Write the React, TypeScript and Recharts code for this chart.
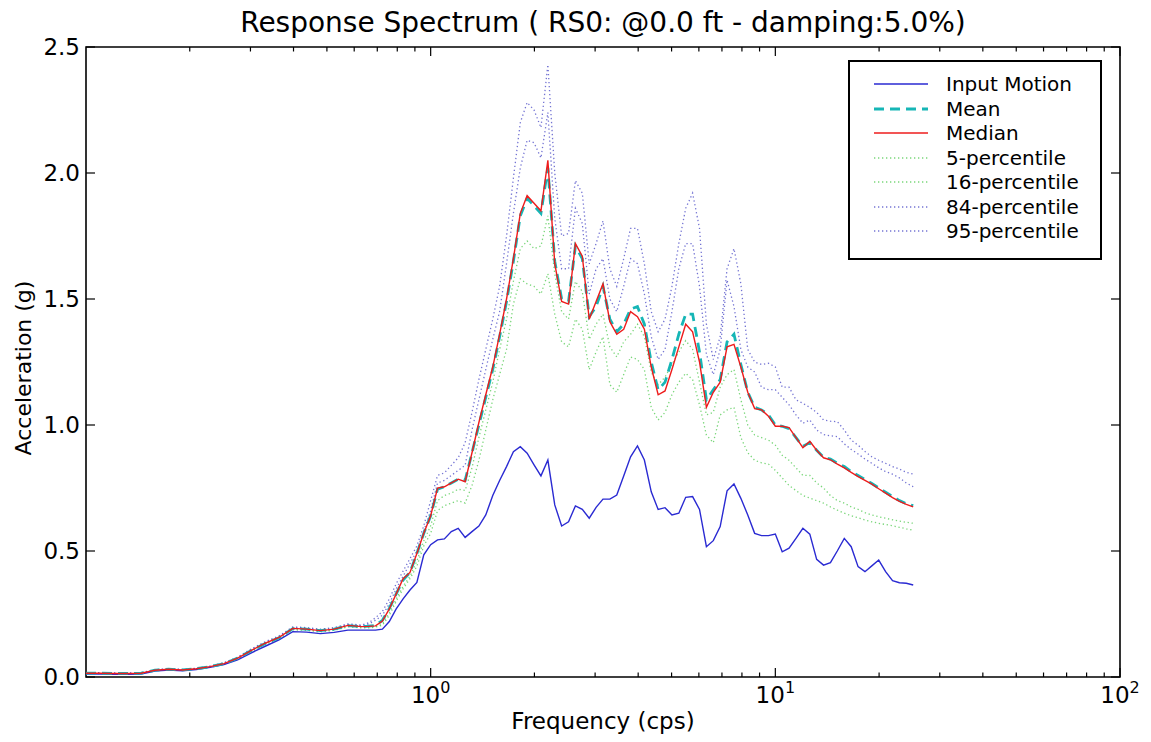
import React from 'react';
import { LineChart, Line, XAxis, YAxis, Legend, ReferenceArea, Label } from 'recharts';

const FONT = '"DejaVu Sans", Verdana, sans-serif';
const W = 1151;
const H = 742;
const PLOT_L = 86;
const PLOT_R = 1120;
const PLOT_T = 47;
const PLOT_B = 677;

// frequency (cps)
const frequency = [
  0.1, 0.1096, 0.1202, 0.1318, 0.1445, 0.1585, 0.1738, 0.1905, 0.2089, 0.2291, 0.2512,
  0.2754, 0.302, 0.3311, 0.3631, 0.3981, 0.4365, 0.4786, 0.5248, 0.5754, 0.631,
  0.6607, 0.6918, 0.7244, 0.7586, 0.7943, 0.8318, 0.871, 0.912, 0.955, 1.0,
  1.047, 1.096, 1.148, 1.202, 1.259, 1.318, 1.38, 1.445, 1.514, 1.585,
  1.66, 1.738, 1.82, 1.905, 1.995, 2.089, 2.188, 2.291, 2.399, 2.512,
  2.63, 2.754, 2.884, 3.02, 3.162, 3.311, 3.467, 3.631, 3.802, 3.981,
  4.169, 4.365, 4.571, 4.786, 5.012, 5.248, 5.495, 5.754, 6.026, 6.31,
  6.607, 6.918, 7.244, 7.586, 7.943, 8.318, 8.71, 9.12, 9.55, 10.0,
  10.47, 10.96, 11.48, 12.02, 12.59, 13.18, 13.8, 14.45, 15.14, 15.85,
  16.6, 17.38, 18.2, 19.05, 19.95, 20.89, 21.88, 22.91, 23.99, 25.12,
];

const inputMotion = [
  0.012, 0.012, 0.011, 0.011, 0.012, 0.024, 0.028, 0.025, 0.03, 0.038, 0.049,
  0.068, 0.096, 0.122, 0.147, 0.18, 0.178, 0.172, 0.177, 0.186, 0.186,
  0.186, 0.186, 0.19, 0.22, 0.27, 0.31, 0.345, 0.375, 0.485, 0.525,
  0.544, 0.548, 0.577, 0.59, 0.554, 0.577, 0.599, 0.643, 0.72, 0.78,
  0.835, 0.894, 0.914, 0.888, 0.842, 0.798, 0.861, 0.683, 0.599, 0.616,
  0.679, 0.665, 0.63, 0.673, 0.706, 0.706, 0.722, 0.798, 0.874, 0.917,
  0.861, 0.735, 0.665, 0.672, 0.643, 0.65, 0.713, 0.716, 0.665, 0.517,
  0.541, 0.597, 0.739, 0.766, 0.709, 0.643, 0.57, 0.561, 0.561, 0.567,
  0.497, 0.511, 0.55, 0.59, 0.567, 0.467, 0.444, 0.454, 0.501, 0.55,
  0.517, 0.438, 0.418, 0.441, 0.464, 0.418, 0.382, 0.374, 0.372, 0.365,
];

const meanSpec = [
  0.015, 0.015, 0.014, 0.014, 0.015, 0.027, 0.031, 0.028, 0.033, 0.041, 0.053,
  0.075, 0.105, 0.133, 0.156, 0.192, 0.19, 0.184, 0.19, 0.204, 0.2,
  0.202, 0.205, 0.225, 0.272, 0.33, 0.385, 0.415, 0.49, 0.57, 0.64,
  0.745, 0.755, 0.77, 0.785, 0.78, 0.89, 1.0, 1.11, 1.22, 1.35,
  1.49, 1.65, 1.83, 1.9, 1.87, 1.84, 2.02, 1.65, 1.5, 1.49,
  1.71, 1.66, 1.43, 1.47, 1.55, 1.42, 1.37, 1.4, 1.46, 1.47,
  1.4, 1.25, 1.14, 1.17, 1.26, 1.36, 1.44, 1.44, 1.29, 1.1,
  1.14, 1.18, 1.33, 1.36, 1.24, 1.13, 1.07, 1.06, 1.04, 1.0,
  0.995, 0.985, 0.95, 0.915, 0.93, 0.9, 0.872, 0.865, 0.848, 0.835,
  0.815, 0.8, 0.784, 0.768, 0.75, 0.733, 0.716, 0.7, 0.688, 0.68,
];

const medianSpec = [
  0.015, 0.015, 0.014, 0.014, 0.015, 0.027, 0.031, 0.028, 0.033, 0.041, 0.053,
  0.075, 0.106, 0.134, 0.157, 0.193, 0.19, 0.184, 0.19, 0.205, 0.2,
  0.201, 0.203, 0.222, 0.27, 0.33, 0.39, 0.415, 0.49, 0.57, 0.64,
  0.75, 0.755, 0.77, 0.785, 0.775, 0.89, 1.01, 1.12, 1.23, 1.36,
  1.5, 1.66, 1.84, 1.91, 1.88, 1.85, 2.05, 1.64, 1.49, 1.48,
  1.72, 1.67, 1.42, 1.49, 1.56, 1.41, 1.36, 1.38, 1.45, 1.43,
  1.38, 1.23, 1.12, 1.135, 1.22, 1.31, 1.4, 1.37, 1.25, 1.07,
  1.13, 1.17, 1.31, 1.32, 1.23, 1.13, 1.065, 1.06, 1.035, 0.995,
  0.995, 0.99, 0.95, 0.91, 0.935, 0.9, 0.87, 0.862, 0.845, 0.83,
  0.812, 0.795, 0.78, 0.765, 0.747, 0.73, 0.712, 0.697, 0.685, 0.675,
];

const p5 = [
  0.013, 0.013, 0.012, 0.012, 0.013, 0.025, 0.029, 0.026, 0.031, 0.039, 0.05,
  0.071, 0.101, 0.128, 0.151, 0.187, 0.185, 0.179, 0.185, 0.199, 0.195,
  0.195, 0.198, 0.205, 0.245, 0.3, 0.35, 0.39, 0.44, 0.52, 0.57,
  0.66, 0.68, 0.69, 0.7, 0.69, 0.76, 0.86, 0.98, 1.1, 1.2,
  1.3, 1.48, 1.58, 1.56, 1.55, 1.52, 1.6, 1.44, 1.33, 1.31,
  1.42, 1.38, 1.22, 1.29, 1.35, 1.16, 1.13, 1.2, 1.27, 1.26,
  1.22, 1.07, 1.02, 1.05, 1.12, 1.17, 1.205, 1.18, 1.08, 0.96,
  0.93, 1.04, 1.06, 1.07, 0.95, 0.89, 0.86, 0.85, 0.845, 0.82,
  0.79, 0.76, 0.74, 0.72, 0.71, 0.7, 0.69, 0.675, 0.662, 0.65,
  0.64, 0.632, 0.623, 0.616, 0.61, 0.605, 0.6, 0.594, 0.588, 0.583,
];

const p16 = [
  0.014, 0.014, 0.013, 0.013, 0.014, 0.026, 0.03, 0.027, 0.032, 0.04, 0.052,
  0.073, 0.104, 0.131, 0.154, 0.19, 0.188, 0.182, 0.188, 0.202, 0.198,
  0.198, 0.2, 0.21, 0.255, 0.31, 0.36, 0.4, 0.46, 0.54, 0.6,
  0.7, 0.72, 0.73, 0.745, 0.74, 0.83, 0.95, 1.06, 1.17, 1.3,
  1.42, 1.57, 1.7, 1.73, 1.7, 1.71, 1.83, 1.6, 1.45, 1.42,
  1.57, 1.53, 1.34, 1.4, 1.44, 1.31, 1.27, 1.33, 1.36, 1.4,
  1.35, 1.21, 1.16, 1.19, 1.24, 1.29, 1.335, 1.3, 1.17, 1.04,
  1.05, 1.15, 1.2, 1.22, 1.1, 1.0, 0.96, 0.95, 0.94, 0.92,
  0.88, 0.86, 0.83, 0.8, 0.8, 0.77, 0.75, 0.72, 0.7, 0.69,
  0.675, 0.665, 0.652, 0.643, 0.636, 0.63, 0.624, 0.619, 0.614, 0.61,
];

const p84 = [
  0.016, 0.016, 0.015, 0.015, 0.016, 0.028, 0.032, 0.029, 0.034, 0.042, 0.055,
  0.077, 0.109, 0.137, 0.16, 0.196, 0.193, 0.187, 0.193, 0.208, 0.203,
  0.21, 0.225, 0.245, 0.29, 0.35, 0.4, 0.45, 0.5, 0.58, 0.66,
  0.77, 0.78, 0.8, 0.82, 0.84, 0.98, 1.1, 1.22, 1.34, 1.45,
  1.64, 1.84, 2.02, 2.13, 2.12, 2.06, 2.24, 1.82, 1.62, 1.62,
  1.86, 1.8, 1.52, 1.62, 1.66, 1.5, 1.45, 1.55, 1.66, 1.64,
  1.52, 1.35, 1.26, 1.3, 1.45, 1.62, 1.72, 1.72, 1.55, 1.28,
  1.2, 1.3, 1.575, 1.47, 1.3, 1.23, 1.21, 1.15, 1.14, 1.14,
  1.11, 1.08, 1.04, 1.007, 1.02, 0.98, 0.962, 0.957, 0.954, 0.925,
  0.903, 0.885, 0.865, 0.848, 0.83, 0.815, 0.805, 0.79, 0.77, 0.755,
];

const p95 = [
  0.017, 0.017, 0.016, 0.016, 0.017, 0.029, 0.033, 0.03, 0.035, 0.043, 0.057,
  0.079, 0.112, 0.14, 0.163, 0.199, 0.196, 0.19, 0.196, 0.211, 0.206,
  0.215, 0.235, 0.26, 0.31, 0.37, 0.42, 0.47, 0.52, 0.6, 0.7,
  0.8, 0.81, 0.84, 0.87, 0.93, 1.05, 1.18, 1.3, 1.42, 1.55,
  1.75, 1.98, 2.2, 2.28, 2.25, 2.18, 2.43, 2.0, 1.75, 1.76,
  1.97, 1.92, 1.64, 1.72, 1.81, 1.62, 1.55, 1.66, 1.78, 1.78,
  1.64, 1.45, 1.37, 1.42, 1.55, 1.72, 1.86, 1.92, 1.78, 1.4,
  1.26, 1.35, 1.62, 1.7, 1.56, 1.3, 1.25, 1.24, 1.245, 1.23,
  1.15, 1.15, 1.1, 1.086, 1.07, 1.05, 1.02, 1.015, 1.013, 0.98,
  0.94, 0.92, 0.895, 0.874, 0.86, 0.848, 0.835, 0.825, 0.812, 0.805,
];

const yTicks = [0, 0.5, 1.0, 1.5, 2.0, 2.5];
const xTicks = [
  0.2, 0.3, 0.4, 0.5, 0.6, 0.7, 0.8, 0.9, 1,
  2, 3, 4, 5, 6, 7, 8, 9, 10,
  20, 30, 40, 50, 60, 70, 80, 90, 100,
];

const rows = frequency.map((f, i) => ({
  f,
  input: inputMotion[i],
  mean: meanSpec[i],
  median: medianSpec[i],
  p5: p5[i],
  p16: p16[i],
  p84: p84[i],
  p95: p95[i],
}));

type Series = {
  key: string;
  name: string;
  color: string;
  width: number;
  dash?: string;
  opacity?: number;
};

// legend order
const legendSeries: Series[] = [
  { key: 'input', name: 'Input Motion', color: '#2a2ad2', width: 1.4 },
  { key: 'mean', name: 'Mean', color: '#16b6b6', width: 2.8, dash: '10 6' },
  { key: 'median', name: 'Median', color: '#ee1c1c', width: 1.4 },
  { key: 'p5', name: '5-percentile', color: '#4cc84c', width: 1.3, dash: '1.3 2.7', opacity: 0.75 },
  { key: 'p16', name: '16-percentile', color: '#4cc84c', width: 1.3, dash: '1.3 2.7', opacity: 0.75 },
  { key: 'p84', name: '84-percentile', color: '#4444c4', width: 1.3, dash: '1.3 2.7', opacity: 0.75 },
  { key: 'p95', name: '95-percentile', color: '#4444c4', width: 1.3, dash: '1.3 2.7', opacity: 0.75 },
];

// draw order: percentiles underneath, median on top
const drawOrder = ['p5', 'p16', 'p84', 'p95', 'input', 'mean', 'median'];

const YTick = (props: any) => {
  const { y, payload } = props;
  return (
    <g>
      <line x1={PLOT_L} x2={PLOT_L + 9} y1={y} y2={y} stroke="#000" strokeWidth={1.2} />
      <line x1={PLOT_R - 9} x2={PLOT_R} y1={y} y2={y} stroke="#000" strokeWidth={1.2} />
      <text x={80} y={y} dy="0.36em" textAnchor="end" fontSize={23} fill="#000" fontFamily={FONT}>
        {Number(payload.value).toFixed(1)}
      </text>
    </g>
  );
};

const XTick = (props: any) => {
  const { x, payload } = props;
  const v = Number(payload.value);
  const exp = Math.round(Math.log10(v));
  const major = Math.abs(v - Math.pow(10, exp)) < 1e-9;
  const len = major ? 9 : 4.5;
  return (
    <g>
      <line x1={x} x2={x} y1={PLOT_B} y2={PLOT_B - len} stroke="#000" strokeWidth={1.2} />
      <line x1={x} x2={x} y1={PLOT_T} y2={PLOT_T + len} stroke="#000" strokeWidth={1.2} />
      {major && (
        <text x={x} y={703} textAnchor="middle" fontSize={23} fill="#000" fontFamily={FONT}>
          10
          <tspan dy={-10} fontSize={16}>
            {exp}
          </tspan>
        </text>
      )}
    </g>
  );
};

const renderLegend = () => (
  <div
    style={{
      width: 254,
      height: 200,
      boxSizing: 'border-box',
      border: '2px solid #000',
      background: '#fff',
      paddingTop: 10,
      fontFamily: FONT,
      fontSize: 20,
      color: '#000',
    }}
  >
    {legendSeries.map((s) => (
      <div key={s.key} style={{ display: 'flex', alignItems: 'center', height: 24.5 }}>
        <svg width={96} height={10} style={{ flex: 'none' }}>
          <line
            x1={24}
            x2={78}
            y1={5}
            y2={5}
            stroke={s.color}
            strokeWidth={s.width}
            strokeDasharray={s.dash}
            strokeOpacity={s.opacity ?? 1}
          />
        </svg>
        <span style={{ lineHeight: '24px', whiteSpace: 'nowrap' }}>{s.name}</span>
      </div>
    ))}
  </div>
);

export default function App() {
  return (
    <div style={{ position: 'absolute', left: 0, top: 0, width: W, height: H, background: '#fff' }}>
      <div
        style={{
          position: 'absolute',
          left: 55,
          top: 7,
          width: 1096,
          textAlign: 'center',
          fontFamily: FONT,
          fontSize: 28,
          lineHeight: '32px',
          color: '#000',
          zIndex: 2,
        }}
      >
        Response Spectrum ( RS0: @0.0 ft - damping:5.0%)
      </div>
      <LineChart
        width={W}
        height={H}
        data={rows}
        margin={{ top: PLOT_T, right: W - PLOT_R, bottom: 0, left: 0 }}
        style={{ fontFamily: FONT }}
      >
        <XAxis
          dataKey="f"
          type="number"
          scale="log"
          domain={[0.1, 100]}
          allowDataOverflow
          ticks={xTicks}
          interval={0}
          tick={<XTick />}
          tickLine={false}
          axisLine={false}
          height={H - PLOT_B}
        >
          <Label
            content={() => (
              <text x={(PLOT_L + PLOT_R) / 2} y={729} textAnchor="middle" fontSize={23} fill="#000" fontFamily={FONT}>
                Frequency (cps)
              </text>
            )}
          />
        </XAxis>
        <YAxis
          type="number"
          domain={[0, 2.5]}
          ticks={yTicks}
          interval={0}
          tick={<YTick />}
          tickLine={false}
          axisLine={false}
          width={PLOT_L}
        >
          <Label
            content={() => (
              <text
                x={23}
                y={368}
                transform="rotate(-90 23 368)"
                textAnchor="middle"
                dominantBaseline="central"
                fontSize={22}
                fill="#000"
                fontFamily={FONT}
              >
                Acceleration (g)
              </text>
            )}
          />
        </YAxis>
        <ReferenceArea
          x1={0.1}
          x2={100}
          y1={0}
          y2={2.5}
          fill="none"
          fillOpacity={0}
          stroke="#000"
          strokeWidth={1.6}
          ifOverflow="visible"
        />
        {drawOrder.map((k) => {
          const s = legendSeries.find((d) => d.key === k)!;
          return (
            <Line
              key={s.key}
              dataKey={s.key}
              name={s.name}
              type="linear"
              stroke={s.color}
              strokeWidth={s.width}
              strokeDasharray={s.dash}
              strokeOpacity={s.opacity ?? 1}
              dot={false}
              activeDot={false}
              isAnimationActive={false}
            />
          );
        })}
        <Legend
          layout="vertical"
          align="center"
          verticalAlign="middle"
          content={renderLegend}
          wrapperStyle={{ left: 848, top: 60, width: 254, height: 200 }}
        />
      </LineChart>
    </div>
  );
}
